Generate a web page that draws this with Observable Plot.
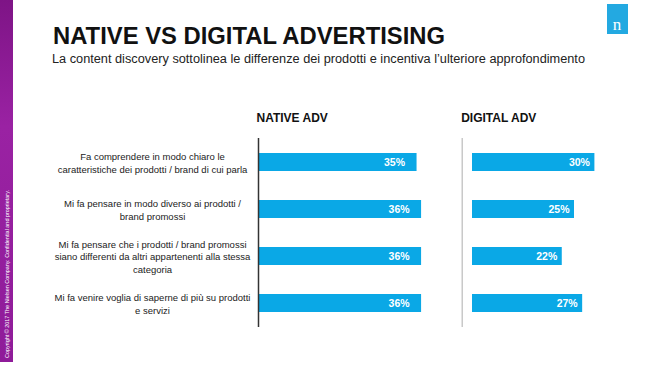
<!DOCTYPE html>
<html>
<head>
<meta charset="utf-8">
<script src="https://cdn.jsdelivr.net/npm/d3@7"></script>
<script src="https://cdn.jsdelivr.net/npm/@observablehq/plot@0.6"></script>
<style>
  html, body { margin: 0; padding: 0; background: #fff; }
  #root { position: relative; width: 661px; height: 368px; overflow: hidden; font-family: "Liberation Sans", Arial, sans-serif; }
  #root > * { position: absolute; }
</style>
</head>
<body>
<div id="root">
  <svg id="base" width="661" height="368" style="left:0;top:0">
    <defs>
      <linearGradient id="purp" x1="0" y1="0" x2="0" y2="1">
        <stop offset="0" stop-color="#7e1486"/>
        <stop offset="0.35" stop-color="#9a22a3"/>
        <stop offset="1" stop-color="#8f1b99"/>
      </linearGradient>
    </defs>
    <rect x="0" y="0" width="13" height="362" fill="url(#purp)"/>
    <text transform="translate(8.5,358) rotate(-90)" font-size="5" fill="#fff" textLength="168" lengthAdjust="spacingAndGlyphs" font-family="Liberation Sans, Arial, sans-serif">Copyright © 2017 The Nielsen Company. Confidential and proprietary.</text>
    <text x="53" y="44.3" font-size="23.5" font-weight="bold" fill="#111" textLength="392" lengthAdjust="spacingAndGlyphs" font-family="Liberation Sans, Arial, sans-serif">NATIVE VS DIGITAL ADVERTISING</text>
    <text x="52" y="63.3" font-size="12.5" fill="#222" textLength="533" lengthAdjust="spacingAndGlyphs" font-family="Liberation Sans, Arial, sans-serif">La content discovery sottolinea le differenze dei prodotti e incentiva l’ulteriore approfondimento</text>
    <rect x="607" y="4" width="21" height="30" fill="#23a9e1"/>
    <text x="617" y="30" font-size="17" fill="#fff" text-anchor="middle" font-family="Liberation Serif, DejaVu Serif, serif">n</text>
  </svg>
</div>
<script>
const categories = [
  "Fa comprendere in modo chiaro le\ncaratteristiche dei prodotti / brand di cui parla",
  "Mi fa pensare in modo diverso ai prodotti /\nbrand promossi",
  "Mi fa pensare che i prodotti / brand promossi\nsiano differenti da altri appartenenti alla stessa\ncategoria",
  "Mi fa venire voglia di saperne di più su prodotti\ne servizi"
];
const nativeValues = [35, 36, 36, 36];
const digitalValues = [30, 25, 22, 27];
const panelTitles = ["NATIVE ADV", "DIGITAL ADV"];

const nativeData = categories.map((c, i) => ({category: c, value: nativeValues[i]}));
const digitalData = categories.map((c, i) => ({category: c, value: digitalValues[i]}));

const barColor = "#0aa8e6";
const font = "Liberation Sans, Arial, sans-serif";

const native = Plot.plot({
  width: 445, height: 240,
  marginTop: 38, marginBottom: 13, marginLeft: 258, marginRight: 5,
  style: {background: "transparent", fontFamily: font},
  x: {domain: [0, 40], range: [258, 439.2], axis: null},
  y: {domain: categories, paddingInner: 0.61, paddingOuter: 0.305, axis: null},
  marks: [
    Plot.barX(nativeData, {x: "value", y: "category", fill: barColor}),
    Plot.ruleX([0], {stroke: "#333", strokeWidth: 1.5}),
    Plot.text(nativeData, {x: "value", y: "category", text: d => d.value + "%", textAnchor: "end", dx: -12, fill: "white", fontWeight: "bold", fontSize: 10.5}),
    Plot.text(nativeData, {y: "category", text: "category", frameAnchor: "left", dx: -106, textAnchor: "middle", fontSize: 9.5, lineHeight: 1.3, fill: "#222"}),
    Plot.text([panelTitles[0]], {frameAnchor: "top-left", dx: -2, dy: -17, lineAnchor: "bottom", textAnchor: "start", fontWeight: "bold", fontSize: 12, fill: "#111"})
  ]
});
native.style.left = "0px";
native.style.top = "100px";

const digital = Plot.plot({
  width: 216, height: 240,
  marginTop: 38, marginBottom: 13, marginLeft: 16.7, marginRight: 5,
  style: {background: "transparent", fontFamily: font},
  x: {domain: [0, 40], range: [27, 190.2], axis: null},
  y: {domain: categories, paddingInner: 0.61, paddingOuter: 0.305, axis: null},
  marks: [
    Plot.barX(digitalData, {x: "value", y: "category", fill: barColor}),
    Plot.ruleX([0], {dx: -10.3, stroke: "#bbb", strokeWidth: 1.2}),
    Plot.text(digitalData, {x: "value", y: "category", text: d => d.value + "%", textAnchor: "end", dx: -5, fill: "white", fontWeight: "bold", fontSize: 10.5}),
    Plot.text([panelTitles[1]], {frameAnchor: "top-left", dx: -1, dy: -17, lineAnchor: "bottom", textAnchor: "start", fontWeight: "bold", fontSize: 12, fill: "#111"})
  ]
});
digital.style.left = "445px";
digital.style.top = "100px";

document.getElementById("root").append(native, digital);
</script>
</body>
</html>
